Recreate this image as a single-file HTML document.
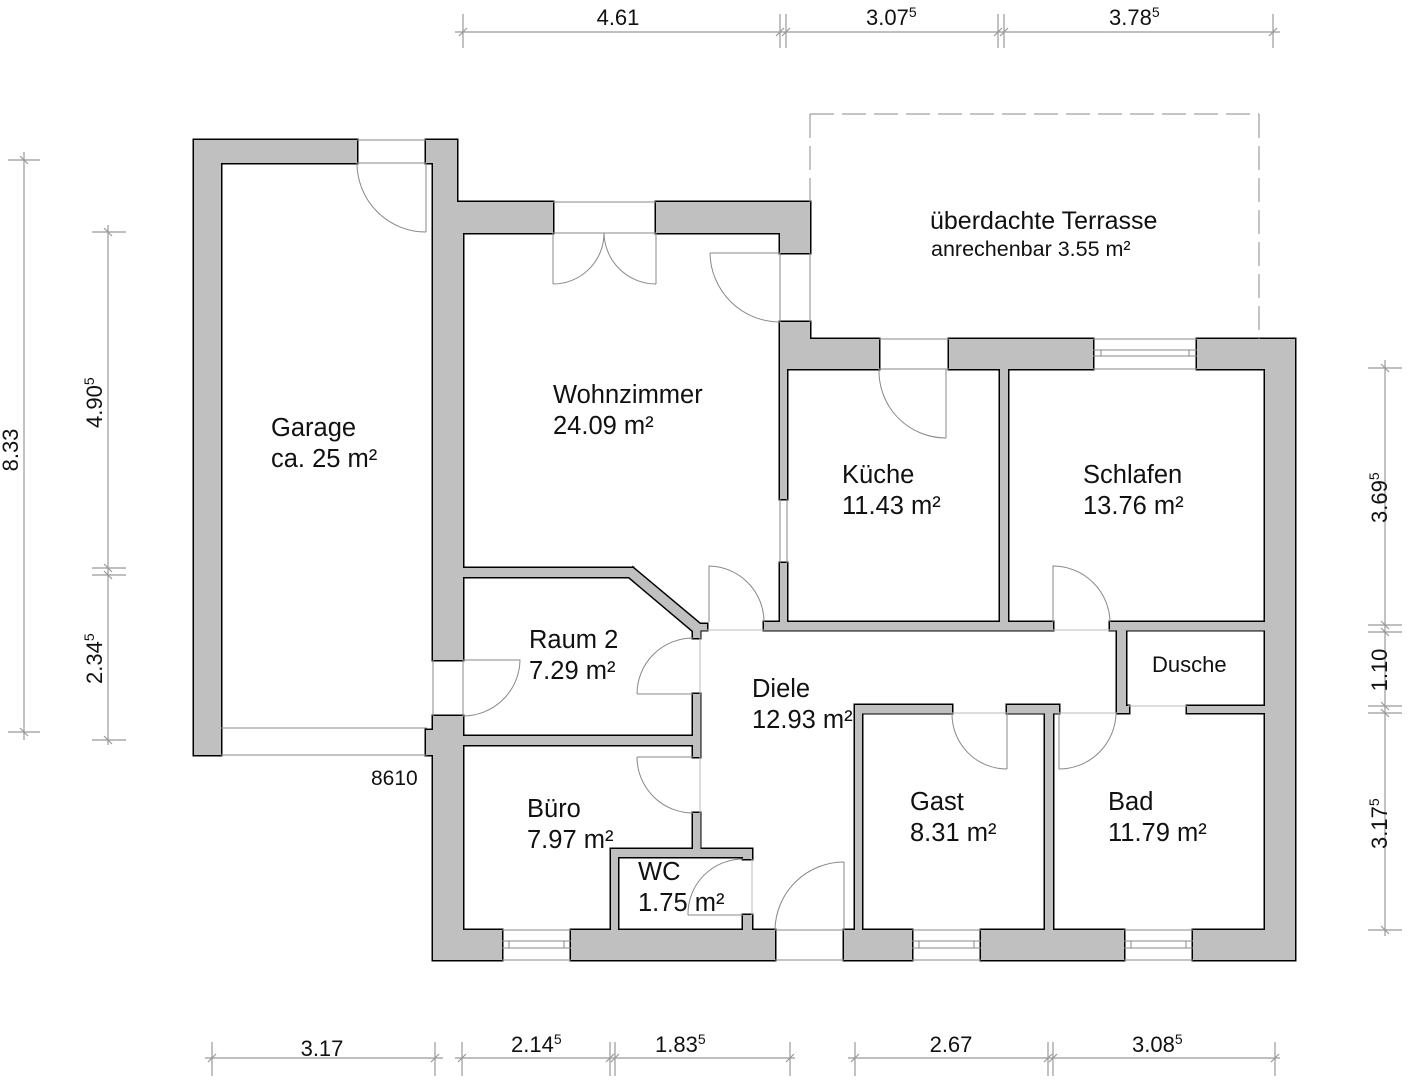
<!DOCTYPE html>
<html><head><meta charset="utf-8"><style>
html,body{margin:0;padding:0;background:#fff;}
svg{display:block;font-family:"Liberation Sans",Arial,sans-serif;}
</style></head><body>
<svg width="1414" height="1080" viewBox="0 0 1414 1080" xmlns="http://www.w3.org/2000/svg">
<defs>
<g id="w">
<rect x="194" y="140" width="163" height="23"/>
<rect x="194" y="140" width="27" height="615"/>
<rect x="426" y="140" width="31" height="23"/>
<rect x="433" y="140" width="24" height="62"/>
<rect x="433" y="202" width="30" height="458"/>
<rect x="433" y="716" width="30" height="244"/>
<rect x="426" y="730" width="8" height="25"/>
<rect x="457" y="202" width="96" height="31"/>
<rect x="656" y="202" width="154" height="31"/>
<rect x="780" y="202" width="30" height="51"/>
<rect x="780" y="322" width="30" height="47"/>
<rect x="780" y="339" width="99" height="30"/>
<rect x="949" y="339" width="144" height="30"/>
<rect x="1197" y="339" width="98" height="30"/>
<rect x="780" y="369" width="7" height="130"/>
<rect x="780" y="563" width="7" height="67"/>
<rect x="1265" y="339" width="30" height="621"/>
<rect x="1000" y="369" width="8" height="261"/>
<rect x="764" y="622" width="289" height="8"/>
<rect x="1110" y="622" width="155" height="8"/>
<rect x="1117" y="630" width="9" height="83"/>
<rect x="1117" y="706" width="12" height="7"/>
<rect x="1187" y="706" width="78" height="7"/>
<rect x="855" y="705" width="97" height="8"/>
<rect x="1007" y="705" width="52" height="8"/>
<rect x="855" y="705" width="7" height="225"/>
<rect x="1045" y="705" width="8" height="225"/>
<rect x="433" y="930" width="69" height="30"/>
<rect x="571" y="930" width="204" height="30"/>
<rect x="844" y="930" width="68" height="30"/>
<rect x="981" y="930" width="143" height="30"/>
<rect x="1193" y="930" width="102" height="30"/>
<rect x="463" y="568" width="170" height="9"/>
<polygon points="633,568 700,624 707,624 707,630 700,630 700,638 693,638 693,631 629,577"/>
<rect x="693" y="694" width="7" height="63"/>
<rect x="693" y="813" width="7" height="44"/>
<rect x="463" y="736" width="237" height="9"/>
<rect x="611" y="849" width="141" height="8"/>
<rect x="611" y="849" width="7" height="81"/>
<rect x="743" y="849" width="9" height="10"/>
<rect x="743" y="915" width="9" height="15"/>
</g>
</defs>
<use href="#w" fill="#000" stroke="#000" stroke-width="3"/>
<use href="#w" fill="#c0c0c0"/>

<g fill="none" stroke="#888" stroke-width="1">
<line x1="221" y1="728" x2="427" y2="728"/><line x1="221" y1="755" x2="427" y2="755"/>
<line x1="357" y1="140" x2="426" y2="140"/><line x1="357" y1="163" x2="426" y2="163"/>
<line x1="553" y1="202" x2="656" y2="202"/><line x1="553" y1="233" x2="656" y2="233"/>
<line x1="780" y1="253" x2="780" y2="322"/><line x1="810" y1="253" x2="810" y2="322"/>
<line x1="879" y1="339" x2="949" y2="339"/><line x1="879" y1="369" x2="949" y2="369"/>
<line x1="1093" y1="339" x2="1197" y2="339"/><line x1="1093" y1="369" x2="1197" y2="369"/>
<line x1="1093" y1="350" x2="1197" y2="350"/><line x1="1093" y1="356" x2="1197" y2="356"/>
<line x1="1101" y1="350" x2="1101" y2="356"/><line x1="1189" y1="350" x2="1189" y2="356"/>
<line x1="780" y1="499" x2="780" y2="563"/><line x1="787" y1="499" x2="787" y2="563"/>
<line x1="502" y1="930" x2="571" y2="930"/><line x1="502" y1="960" x2="571" y2="960"/>
<line x1="502" y1="941" x2="571" y2="941"/><line x1="502" y1="948" x2="571" y2="948"/>
<line x1="509" y1="941" x2="509" y2="948"/><line x1="564" y1="941" x2="564" y2="948"/>
<line x1="912" y1="930" x2="981" y2="930"/><line x1="912" y1="960" x2="981" y2="960"/>
<line x1="912" y1="941" x2="981" y2="941"/><line x1="912" y1="948" x2="981" y2="948"/>
<line x1="919" y1="941" x2="919" y2="948"/><line x1="974" y1="941" x2="974" y2="948"/>
<line x1="1124" y1="930" x2="1193" y2="930"/><line x1="1124" y1="960" x2="1193" y2="960"/>
<line x1="1124" y1="941" x2="1193" y2="941"/><line x1="1124" y1="948" x2="1193" y2="948"/>
<line x1="1131" y1="941" x2="1131" y2="948"/><line x1="1186" y1="941" x2="1186" y2="948"/>
<line x1="775" y1="930" x2="844" y2="930"/><line x1="775" y1="960" x2="844" y2="960"/>
<line x1="700" y1="630" x2="1265" y2="630" stroke="#bbb"/>
<line x1="700" y1="630" x2="700" y2="849" stroke="#bbb"/>
<line x1="433" y1="660" x2="433" y2="716"/><line x1="463" y1="660" x2="463" y2="716"/>
<line x1="862" y1="713" x2="1117" y2="713" stroke="#bbb"/>
<line x1="1128" y1="706" x2="1187" y2="706" stroke="#bbb"/>
<line x1="752" y1="859" x2="752" y2="915" stroke="#bbb"/>
<path d="M426,163 L426,232 M357,163 A69,69 0 0 0 426,232"/>
<path d="M553,233 L553,284 M604,233 A51,51 0 0 1 553,284"/>
<path d="M656,233 L656,284 M604,233 A52,52 0 0 0 656,284"/>
<path d="M710,253 L780,253 M710,253 A70,70 0 0 0 780,322"/>
<path d="M946,369 L946,438 M879,369 A67,67 0 0 0 946,438"/>
<path d="M709,622 L709,566 A56,56 0 0 1 764,622"/>
<path d="M1053,622 L1053,566 A57,57 0 0 1 1110,622"/>
<path d="M637,694 L693,694 M637,694 A56,56 0 0 1 693,638"/>
<path d="M463,660 L520,660 A57,57 0 0 1 463,716"/>
<path d="M637,757 L693,757 M637,757 A56,56 0 0 0 693,813"/>
<path d="M688,915 L743,915 M688,915 A55,55 0 0 1 743,859"/>
<path d="M844,930 L844,862 M775,930 A69,69 0 0 1 844,862"/>
<path d="M1007,713 L1007,769 M952,713 A55,55 0 0 0 1007,769"/>
<path d="M1059,713 L1059,769 M1116,713 A57,57 0 0 1 1059,769"/>
</g>

<g fill="none" stroke="#888" stroke-width="1" stroke-dasharray="24,8">
<line x1="810" y1="114" x2="1259" y2="114"/>
<line x1="810" y1="114" x2="810" y2="202"/>
<line x1="1259" y1="114" x2="1259" y2="339"/>
</g>

<g stroke="#999" stroke-width="1.2" fill="none">
<line x1="455" y1="32" x2="1280" y2="32"/>
<line x1="463" y1="14" x2="463" y2="48"/><line x1="780" y1="14" x2="780" y2="48"/><line x1="786" y1="14" x2="786" y2="48"/>
<line x1="998" y1="14" x2="998" y2="48"/><line x1="1004" y1="14" x2="1004" y2="48"/><line x1="1273" y1="14" x2="1273" y2="48"/>
<path d="M459,36 L467,28 M776,36 L784,28 M782,36 L790,28 M994,36 L1002,28 M1000,36 L1008,28 M1269,36 L1277,28"/>
<line x1="24" y1="152" x2="24" y2="740"/>
<line x1="8" y1="160" x2="40" y2="160"/><line x1="8" y1="732" x2="40" y2="732"/>
<line x1="108" y1="225" x2="108" y2="745"/>
<line x1="92" y1="232" x2="126" y2="232"/><line x1="92" y1="568" x2="126" y2="568"/><line x1="92" y1="575" x2="126" y2="575"/><line x1="92" y1="740" x2="126" y2="740"/>
<path d="M20,156 L28,164 M20,728 L28,736 M104,228 L112,236 M104,564 L112,572 M104,571 L112,579 M104,736 L112,744"/>
<line x1="1385" y1="360" x2="1385" y2="936"/>
<line x1="1368" y1="368" x2="1402" y2="368"/><line x1="1368" y1="625" x2="1402" y2="625"/><line x1="1368" y1="632" x2="1402" y2="632"/>
<line x1="1368" y1="706" x2="1402" y2="706"/><line x1="1368" y1="713" x2="1402" y2="713"/><line x1="1368" y1="930" x2="1402" y2="930"/>
<path d="M1381,364 L1389,372 M1381,621 L1389,629 M1381,628 L1389,636 M1381,702 L1389,710 M1381,709 L1389,717 M1381,926 L1389,934"/>
<line x1="205" y1="1058" x2="443" y2="1058"/><line x1="455" y1="1058" x2="795" y2="1058"/>
<line x1="848" y1="1058" x2="1280" y2="1058"/>
<line x1="212" y1="1042" x2="212" y2="1076"/><line x1="435" y1="1042" x2="435" y2="1076"/>
<line x1="462" y1="1042" x2="462" y2="1076"/><line x1="610" y1="1042" x2="610" y2="1076"/><line x1="615" y1="1042" x2="615" y2="1076"/><line x1="790" y1="1042" x2="790" y2="1076"/>
<line x1="855" y1="1042" x2="855" y2="1076"/><line x1="1048" y1="1042" x2="1048" y2="1076"/><line x1="1053" y1="1042" x2="1053" y2="1076"/><line x1="1275" y1="1042" x2="1275" y2="1076"/>
<path d="M208,1062 L216,1054 M431,1062 L439,1054 M458,1062 L466,1054 M606,1062 L614,1054 M611,1062 L619,1054 M786,1062 L794,1054 M851,1062 L859,1054 M1044,1062 L1052,1054 M1049,1062 L1057,1054 M1271,1062 L1279,1054"/>
</g>

<g fill="#111" font-size="22">
<text x="618" y="25" text-anchor="middle">4.61</text>
<text x="866" y="25">3.07<tspan font-size="14" dy="-8">5</tspan></text>
<text x="1109" y="25">3.78<tspan font-size="14" dy="-8">5</tspan></text>
<text x="322" y="1056" text-anchor="middle">3.17</text>
<text x="511" y="1052">2.14<tspan font-size="14" dy="-8">5</tspan></text>
<text x="655" y="1052">1.83<tspan font-size="14" dy="-8">5</tspan></text>
<text x="951" y="1052" text-anchor="middle">2.67</text>
<text x="1132" y="1052">3.08<tspan font-size="14" dy="-8">5</tspan></text>
<text transform="translate(18,450) rotate(-90)" text-anchor="middle">8.33</text>
<text transform="translate(102,428) rotate(-90)">4.90<tspan font-size="14" dy="-8">5</tspan></text>
<text transform="translate(102,684) rotate(-90)">2.34<tspan font-size="14" dy="-8">5</tspan></text>
<text transform="translate(1387,523) rotate(-90)">3.69<tspan font-size="14" dy="-8">5</tspan></text>
<text transform="translate(1387,670) rotate(-90)" text-anchor="middle">1.10</text>
<text transform="translate(1387,849) rotate(-90)">3.17<tspan font-size="14" dy="-8">5</tspan></text>
<text x="371" y="785" font-size="21">8610</text>
</g>

<g fill="#111" font-size="25.5">
<text x="271" y="436">Garage</text><text x="271" y="467">ca. 25 m²</text>
<text x="553" y="403">Wohnzimmer</text><text x="553" y="434">24.09 m²</text>
<text x="842" y="483">Küche</text><text x="842" y="514">11.43 m²</text>
<text x="1083" y="483">Schlafen</text><text x="1083" y="514">13.76 m²</text>
<text x="529" y="648">Raum 2</text><text x="529" y="679">7.29 m²</text>
<text x="752" y="697">Diele</text><text x="752" y="728">12.93 m²</text>
<text x="527" y="817">Büro</text><text x="527" y="848">7.97 m²</text>
<text x="638" y="880">WC</text><text x="638" y="911">1.75 m²</text>
<text x="910" y="810">Gast</text><text x="910" y="841">8.31 m²</text>
<text x="1108" y="810">Bad</text><text x="1108" y="841">11.79 m²</text>
<text x="1152" y="672" font-size="22">Dusche</text>
<text x="930" y="229" font-size="25">überdachte Terrasse</text>
<text x="931" y="256" font-size="21.5">anrechenbar 3.55 m²</text>
</g>
</svg>
</body></html>
